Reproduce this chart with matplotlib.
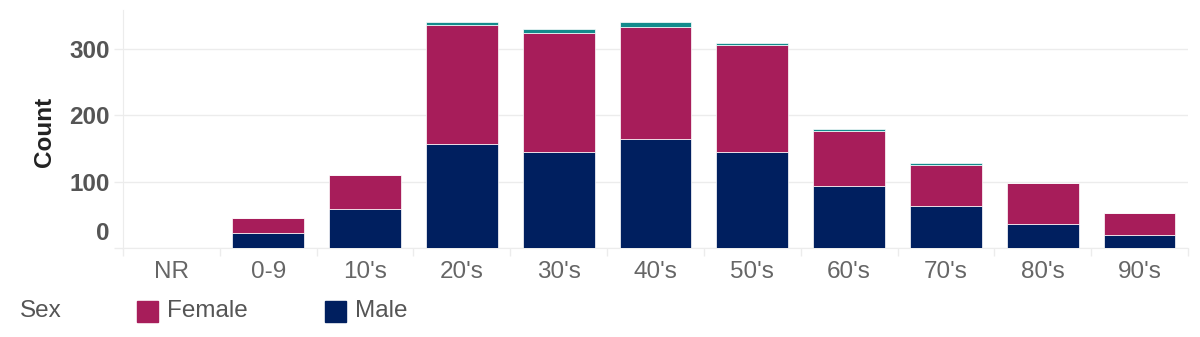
import matplotlib
matplotlib.use('Agg')
import numpy as np
import matplotlib.transforms as mtransforms
from matplotlib import pyplot as plt
from matplotlib.patches import Rectangle

# Counts by age group
age_groups = ['NR', '0-9', "10's", "20's", "30's", "40's", "50's", "60's", "70's", "80's", "90's"]
male = [0, 22, 59, 157, 145, 164, 145, 93, 64, 36, 20]
female = [0, 23, 51, 179, 180, 170, 161, 84, 62, 62, 33]
other = [0, 0, 0, 5, 5, 7, 3, 2, 2, 0, 0]
y_ticks = [0, 100, 200, 300]

MALE_COLOR = '#001f5f'
FEMALE_COLOR = '#a71d5a'
OTHER_COLOR = '#138b8c'
GRID_COLOR = '#ececec'
TEXT_GRAY = '#555555'


def main():
    plt.rcParams['font.family'] = ['Liberation Sans', 'DejaVu Sans']
    fig = plt.figure(figsize=(12, 3.37), dpi=100)
    ax = fig.add_axes([0.1025, 0.264, 0.8875, 0.706])

    x = np.arange(len(age_groups))
    male_arr = np.array(male)
    female_arr = np.array(female)
    width = 0.74
    edge = dict(edgecolor='white', linewidth=0.5)
    ax.bar(x, male_arr, width, color=MALE_COLOR, zorder=3, **edge)
    ax.bar(x, female_arr, width, bottom=male_arr, color=FEMALE_COLOR, zorder=3, **edge)
    ax.bar(x, other, width, bottom=male_arr + female_arr, color=OTHER_COLOR, zorder=3, **edge)

    ax.set_xlim(-0.5, len(age_groups) - 0.5)
    ax.set_ylim(0, 359)

    # x axis: labels at centers, short separators between groups
    ax.set_xticks(x)
    ax.set_xticklabels(age_groups, fontsize=17.5, color='#666666')
    ax.set_xticks(np.arange(len(age_groups) + 1) - 0.5, minor=True)
    ax.tick_params(axis='x', which='major', length=0, pad=9)
    ax.tick_params(axis='x', which='minor', length=5.8, width=1, color=GRID_COLOR)

    # y axis
    ax.set_yticks(y_ticks)
    ax.set_yticklabels([str(t) for t in y_ticks], fontsize=17.5, fontweight='bold', color=TEXT_GRAY)
    ax.tick_params(axis='y', length=6.5, width=1, color=GRID_COLOR, pad=3)
    ax.yaxis.grid(True, color=GRID_COLOR, linewidth=1, zorder=0)
    zero_label = ax.get_yticklabels()[0]
    zero_label.set_transform(zero_label.get_transform() +
                             mtransforms.ScaledTranslation(0, 17 / 100, fig.dpi_scale_trans))

    ax.set_ylabel('Count', fontsize=17.5, fontweight='bold', color='#222222')
    ax.yaxis.set_label_coords(-0.063, 0.49)

    for side in ['top', 'right']:
        ax.spines[side].set_visible(False)
    ax.spines['left'].set_color(GRID_COLOR)
    ax.spines['bottom'].set_color(GRID_COLOR)

    # legend drawn along the bottom
    legend_y = 1 - 311 / 337
    fig.text(20 / 1200, legend_y, 'Sex', fontsize=17.5, color=TEXT_GRAY, va='center')
    for left, color, label in [(137, FEMALE_COLOR, 'Female'), (325, MALE_COLOR, 'Male')]:
        fig.patches.append(Rectangle((left / 1200, 1 - 322 / 337), 21 / 1200, 21 / 337,
                                     transform=fig.transFigure, color=color))
        fig.text((left + 30) / 1200, legend_y, label, fontsize=17.5, color=TEXT_GRAY, va='center')

    fig.savefig('out.png', dpi=100)


if __name__ == '__main__':
    main()
